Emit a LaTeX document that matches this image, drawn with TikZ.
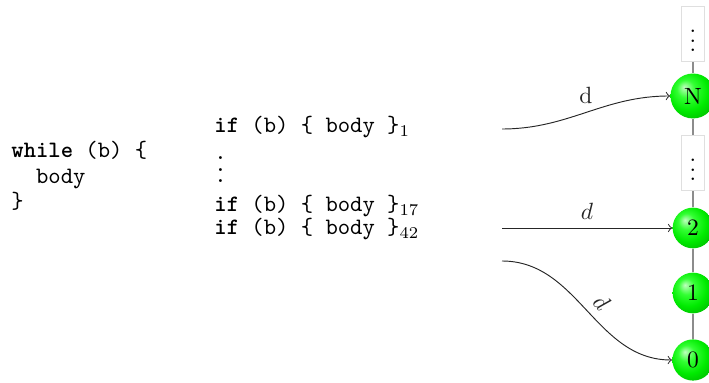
\documentclass[tikz,border=0pt]{standalone}
\pgfdeclareradialshading{greenball}{\pgfpoint{-10bp}{10bp}}{%
  color(0bp)=(green!25!white);
  color(10bp)=(green!80!white);
  color(22bp)=(green!92!black);
  color(34bp)=(green!72!black);
  color(44bp)=(green!50!black);
  color(50bp)=(green!35!black)}
\begin{document}
\begin{tikzpicture}[x=0.42553pt,y=-0.42553pt,
  ball/.style={circle, shading=greenball, inner sep=3.2pt},
  dotsbox/.style={draw=gray!25, minimum width=9.4pt, minimum height=23.5pt, inner sep=0pt},
  chain/.style={draw=gray!90, line width=0.6pt},
  code/.style={anchor=base west, inner sep=0pt, font=\ttfamily},
  arr/.style={->, black!85}
]
\useasboundingbox (0,0) rectangle (709,383);
\node[code] (w1) at (11,158) {\textbf{while} (b) \{};
\node[code] (w2) at (11,183.5) {\hphantom{xx}body};
\node[code] (w3) at (11,209) {\}};
\node[code] (i1) at (214,133) {\textbf{if} (b) \{ body \}$_1$};
\node[code] (id) at (214,183) {\vbox{\baselineskip=4.9pt\lineskiplimit=0pt\hbox{.}\hbox{.}\hbox{.}}};
\node[code] (i17) at (214,212) {\textbf{if} (b) \{ body \}$_{17}$};
\node[code] (i42) at (214,235) {\textbf{if} (b) \{ body \}$_{42}$};

\node[ball] (b0) at (693,360) {0};
\node[ball] (b1) at (693,293) {1};
\node[ball] (b2) at (693,228) {2};
\node[dotsbox] (m) at (693,163) {$\vdots$};
\node[ball] (bN) at (693,96) {N};
\node[dotsbox] (t) at (693,34) {$\vdots$};

\draw[chain] (t) -- (bN);
\draw[chain] (bN) -- (m);
\draw[chain] (m) -- (b2);
\draw[chain] (b2) -- (b1);
\draw[chain] (b1) -- (b0);

\coordinate (s1) at (502,129);
\coordinate (s2) at (502,228);
\coordinate (s3) at (502,261);
\draw[arr] (s1) to[out=0,in=180] node[above]{d} (bN);
\draw[arr] (s2) -- node[above]{$d$} (b2);
\draw[arr] (s3) to[out=0,in=180] node[above,sloped,pos=0.52]{$d$} (b0);
\end{tikzpicture}
\end{document}
